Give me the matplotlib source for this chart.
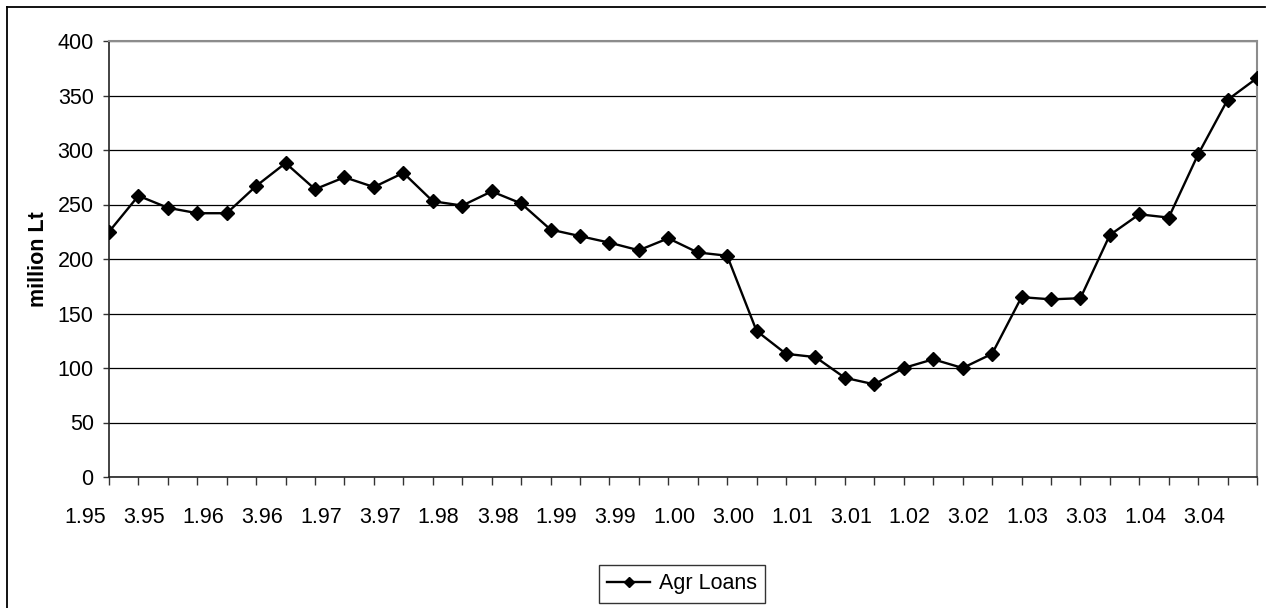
import matplotlib
matplotlib.use("Agg")
import matplotlib.pyplot as plt
from matplotlib.lines import Line2D

plt.rcParams['font.family'] = ['Liberation Sans', 'DejaVu Sans']

# quarterly agricultural loans, 1995 Q1 .. 2004 Q4
agr_loans = [225, 258, 247, 242, 242, 267, 288, 264, 275, 266,
             279, 253, 249, 262, 251, 227, 221, 215, 208, 219,
             206, 203, 134, 113, 110, 91, 85, 100, 108, 100,
             113, 165, 163, 164, 222, 241, 238, 296, 346, 366]
quarter_labels = ['1.95', '3.95', '1.96', '3.96', '1.97', '3.97', '1.98', '3.98',
                  '1.99', '3.99', '1.00', '3.00', '1.01', '3.01', '1.02', '3.02',
                  '1.03', '3.03', '1.04', '3.04']
y_ticks = [0, 50, 100, 150, 200, 250, 300, 350, 400]

x = list(range(len(agr_loans)))

fig = plt.figure(figsize=(12.7, 6.08), dpi=100)
ax = fig.add_axes([109 / 1270, 1 - 477 / 608, (1257 - 109) / 1270, (477 - 41) / 608])

ax.plot(x, agr_loans, color='black', linewidth=1.7, marker='D', markersize=6.8,
        label='Agr Loans', zorder=3)

ax.set_xlim(0, len(agr_loans) - 1)
ax.set_ylim(0, 400)
ax.set_yticks(y_ticks)
ax.yaxis.grid(True, color='black', linewidth=0.9)
ax.set_axisbelow(True)

# category ticks on every quarter, labels every second quarter
ax.set_xticks(x)
ax.set_xticklabels([])
ax.tick_params(axis='x', direction='out', length=6, width=1, color='#333333')
ax.tick_params(axis='y', direction='out', length=4, width=1, color='#333333',
               labelsize=15.5, pad=7)
for i, lab in enumerate(quarter_labels):
    ax.text(2 * i - 0.8, -0.092, lab, transform=ax.get_xaxis_transform(),
            ha='center', va='center', fontsize=15.5)

for side in ('top', 'right'):
    ax.spines[side].set_color('#8c8c8c')
    ax.spines[side].set_linewidth(1.5)
for side in ('left', 'bottom'):
    ax.spines[side].set_color('#222222')
    ax.spines[side].set_linewidth(1.2)

ax.set_ylabel('million Lt', fontsize=15.5, fontweight='bold', labelpad=6)

leg = ax.legend(loc='center', bbox_to_anchor=(682 / 1270, 1 - 584 / 608),
                bbox_transform=fig.transFigure, fontsize=15.5, frameon=True,
                fancybox=False, handlelength=2.0, borderpad=0.4,
                handletextpad=0.4, markerscale=0.7)
leg.get_frame().set_edgecolor('black')
leg.get_frame().set_linewidth(1.0)

# outer chart border
fig.add_artist(Line2D([6.5 / 1270, 6.5 / 1270], [0, 1 - 7 / 608],
                      transform=fig.transFigure, color='black', linewidth=1.3))
fig.add_artist(Line2D([6.5 / 1270, 1265 / 1270], [1 - 7 / 608, 1 - 7 / 608],
                      transform=fig.transFigure, color='black', linewidth=1.3))

fig.savefig('out.png', dpi=100)
